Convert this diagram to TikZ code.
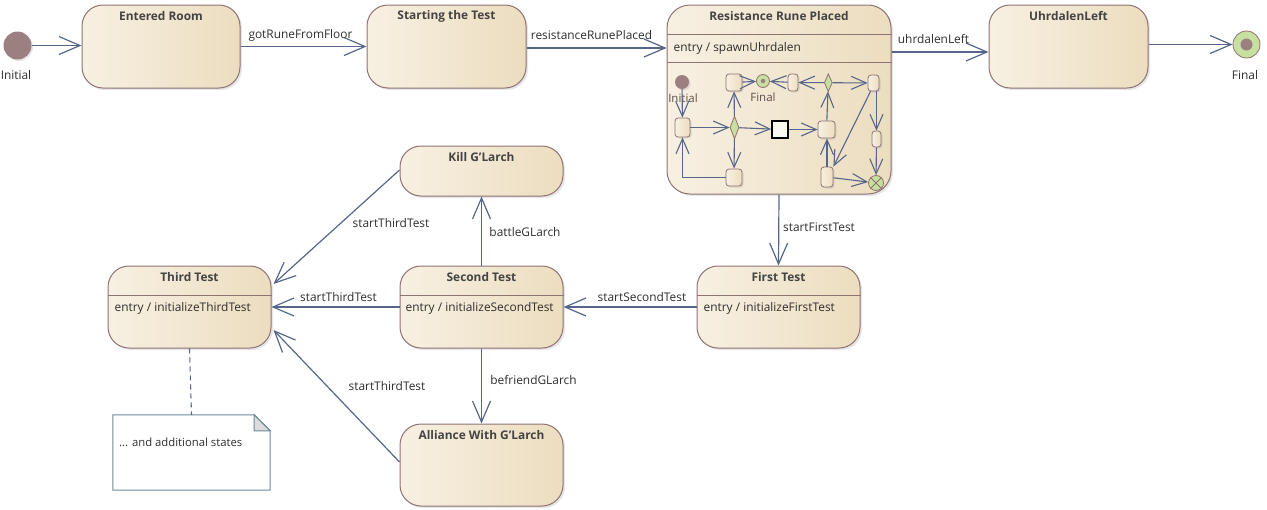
\documentclass[tikz,border=0pt]{standalone}
\usepackage{fontspec}
\setmainfont{Open Sans}
\usetikzlibrary{arrows.meta,shapes.geometric,shadows,calc}
\definecolor{stL}{HTML}{F7F0E2}
\definecolor{stR}{HTML}{ECDDBF}
\definecolor{stB}{HTML}{8E7373}
\definecolor{ln}{HTML}{56668A}
\definecolor{txt}{HTML}{2E2E2E}
\definecolor{ttlc}{HTML}{444444}
\definecolor{ini}{HTML}{9C8081}
\definecolor{fgrn}{HTML}{C7DF9F}
\definecolor{notB}{HTML}{6A8A9A}
\definecolor{foldc}{HTML}{DCDCDC}
\tikzset{
 state/.style={draw=stB, line width=1pt, rounded corners=21pt, left color=stL, right color=stR,
   drop shadow={shadow xshift=2pt, shadow yshift=-2pt, opacity=0.2}, inner sep=0pt},
 small/.style={draw=stB, line width=0.8pt, rounded corners=3pt, left color=stL, right color=stR,
   drop shadow={shadow xshift=1.5pt, shadow yshift=-1.5pt, opacity=0.2}, inner sep=0pt},
 ttl/.style={font=\fontsize{11.9}{13}\selectfont\bfseries, text=ttlc, inner sep=0pt},
 lbl/.style={font=\fontsize{11.9}{13}\selectfont, text=txt, inner sep=0pt},
 slbl/.style={font=\fontsize{11.5}{13}\selectfont, text=txt, inner sep=0pt},
 sep/.style={draw=stB, line width=1pt},
 tr/.style={draw=ln, line width=1.2pt, -{Straight Barb[length=21pt,width=18pt]}},
 itr/.style={draw=ln, line width=1.1pt, -{Straight Barb[length=15pt,width=13pt]}},
 initst/.style={circle, fill=ini, inner sep=0pt, drop shadow={shadow xshift=1.5pt, shadow yshift=-1.5pt, opacity=0.2}},
 finst/.style={circle, draw=stB, line width=0.8pt, fill=fgrn, inner sep=0pt},
}
\begin{document}
\begin{tikzpicture}[x=1pt,y=-1pt]
\useasboundingbox (0,0) rectangle (1267,509);

% ---------- top row ----------
\node[initst, minimum size=28pt] (init) at (17.5,45.5) {};
\node[lbl] (initL) at (16,75) {Initial};

\node[state, minimum width=158pt, minimum height=83pt] (er) at (161,46.5) {};
\node[ttl] (erT) at ([yshift=-12pt]er.north) {Entered Room};

\node[state, minimum width=159pt, minimum height=83pt] (st) at (446.5,46.5) {};
\node[ttl] (stT) at ([yshift=-12pt]st.north) {Starting the Test};

\node[state, minimum width=224pt, minimum height=189pt, rounded corners=23pt] (rr) at (779,99.5) {};
\node[ttl] (rrT) at ([yshift=-12pt]rr.north) {Resistance Rune Placed};
\draw[sep] ([yshift=65.5pt]rr.west) -- ([yshift=65.5pt]rr.east);
\draw[sep] ([yshift=37pt]rr.west) -- ([yshift=37pt]rr.east);
\node[lbl, anchor=west] (rrE) at ([xshift=7pt,yshift=51.5pt]rr.west) {entry / spawnUhrdalen};

\node[state, minimum width=159pt, minimum height=83pt] (ul) at (1068.5,46.5) {};
\node[ttl] (ulT) at ([yshift=-12pt]ul.north) {UhrdalenLeft};

\node[finst, minimum size=27pt] (fin) at (1246.5,44.5) {};
\node[circle, fill=ini, inner sep=0pt, minimum size=12pt] (finD) at (fin.center) {};
\node[lbl] (finL) at (1245,75) {Final};

% ---------- inner diagram of Resistance Rune Placed ----------
\node[initst, minimum size=14pt] (iInit) at (682,82) {};
\node[slbl, text=ini!60!black] (iInitL) at (683,98) {Initial};
\node[small, minimum width=15pt, minimum height=19pt] (A) at (682.5,127.5) {};
\node[diamond, draw=stB, line width=0.8pt, fill=fgrn, minimum width=9pt, minimum height=23pt, inner sep=0pt] (D1) at (734.5,127.5) {};
\node[draw=black, line width=1.6pt, fill=stL!50!white, minimum width=16pt, minimum height=17pt, inner sep=0pt] (J) at (780,129.5) {};
\node[small, minimum width=17pt, minimum height=17pt] (B) at (826.5,129.5) {};
\node[small, minimum width=16pt, minimum height=17pt] (C) at (734,177.5) {};
\node[small, minimum width=16pt, minimum height=17pt] (Dn) at (734,82.5) {};
\node[finst, minimum size=13pt] (iFin) at (763,81) {};
\node[circle, fill=ini, inner sep=0pt, minimum size=4.5pt] (iFinD) at (iFin.center) {};
\node[slbl, text=ini!60!black] (iFinL) at (763,97) {Final};
\node[small, minimum width=10pt, minimum height=17pt] (E) at (793,82.5) {};
\node[diamond, draw=stB, line width=0.8pt, fill=fgrn, minimum width=8pt, minimum height=18pt, inner sep=0pt] (D2) at (828.3,82.7) {};
\node[small, minimum width=11pt, minimum height=16pt] (F) at (873.5,83) {};
\node[small, minimum width=9pt, minimum height=16pt] (H) at (876.5,139) {};
\node[small, minimum width=12pt, minimum height=20pt] (G) at (827,177) {};
\node[finst, minimum size=15pt] (X) at (876,183) {};
\draw[draw=stB, line width=0.8pt] (X.north west) -- (X.south east) (X.north east) -- (X.south west);

\draw[itr] (iInit) -- (A);
\draw[itr] (A) -- (D1);
\draw[itr] (D1) -- (J);
\draw[itr] (J) -- (B);
\draw[itr] (D1) -- (Dn);
\draw[itr] (D1) -- (C);
\draw[itr] (C.west) -| (A.south);
\draw[itr] (Dn) -- (iFin);
\draw[itr] (E) -- (iFin);
\draw[itr] (D2) -- (E);
\draw[itr] (D2) -- (F);
\draw[itr] (B) -- (D2);
\draw[itr] (G) -- (G |- B.south);
\draw[itr] ([xshift=-3pt]F.south) -- (G.north east);
\draw[itr] (F.south -| H.north) -- (H.north);
\draw[itr] (H) -- (X);
\draw[itr] (G) -- (X);

% ---------- lower states ----------
\node[state, minimum width=163pt, minimum height=50pt] (kill) at (481.5,171) {};
\node[ttl] (killT) at ([yshift=-12pt]kill.north) {Kill G'Larch};

\node[state, minimum width=163pt, minimum height=82pt] (third) at (189.5,307) {};
\node[ttl] (thirdT) at ([yshift=-12pt]third.north) {Third Test};
\draw[sep] ([yshift=12pt]third.west) -- ([yshift=12pt]third.east);
\node[lbl, anchor=west] (thirdE) at ([xshift=7pt,yshift=-1pt]third.west) {entry / initializeThirdTest};

\node[state, minimum width=163pt, minimum height=82pt] (second) at (481.5,307) {};
\node[ttl] (secondT) at ([yshift=-12pt]second.north) {Second Test};
\draw[sep] ([yshift=12pt]second.west) -- ([yshift=12pt]second.east);
\node[lbl, anchor=west] (secondE) at ([xshift=6pt,yshift=-1pt]second.west) {entry / initializeSecondTest};

\node[state, minimum width=163pt, minimum height=82pt] (first) at (778.5,307) {};
\node[ttl] (firstT) at ([yshift=-12pt]first.north) {First Test};
\draw[sep] ([yshift=12pt]first.west) -- ([yshift=12pt]first.east);
\node[lbl, anchor=west] (firstE) at ([xshift=7pt,yshift=-1pt]first.west) {entry / initializeFirstTest};

\node[state, minimum width=163pt, minimum height=82pt] (alliance) at (481.5,465) {};
\node[ttl] (allianceT) at ([yshift=-12pt]alliance.north) {Alliance With G'Larch};

% ---------- note ----------
\node[minimum width=157pt, minimum height=75pt, inner sep=0pt] (note) at (191.5,452.5) {};
\draw[draw=notB, fill=white, line width=1pt] (note.north west) -- ([xshift=-16pt]note.north east)
  -- ([yshift=-16pt]note.north east) -- (note.south east) -- (note.south west) -- cycle;
\draw[draw=notB, fill=foldc, line width=1pt] ([xshift=-16pt]note.north east)
  -- ([xshift=-16pt,yshift=-16pt]note.north east) -- ([yshift=-16pt]note.north east) -- cycle;
\node[font=\fontsize{11.3}{13}\selectfont, text=txt, anchor=west, inner sep=0pt] (noteT) at (119,442) {... and additional states};
\draw[draw=ln, line width=1.1pt, dash pattern=on 5pt off 4pt] (third.south) -- (note.north);

% ---------- transitions ----------
\draw[tr] (init.east) -- (init.east -| er.west);
\draw[tr] (er.east) -- (st.west);
\node[lbl] (l1) at (300.5,35) {gotRuneFromFloor};
\draw[tr] ([yshift=-1.5pt]st.east) -- ([yshift=-1.5pt]st.east -| rr.west);
\node[lbl] (l2) at (591.5,35.5) {resistanceRunePlaced};
\draw[tr] ([yshift=-5.5pt]rr.north east |- ul.west) -- ([yshift=-5.5pt]ul.west);
\node[lbl] (l3) at (933.5,39) {uhrdalenLeft};
\draw[tr] (ul.east |- fin.west) -- (fin.west);

\draw[tr] (rr.south) -- (first.north);
\node[lbl] (l4) at (819,227) {startFirstTest};
\draw[tr] (first.west) -- (second.east);
\node[lbl] (l5) at (642,297) {startSecondTest};
\draw[tr] (second.west) -- (third.east);
\node[lbl] (l6) at (338.5,297) {startThirdTest};
\draw[tr] (second.north) -- (kill.south);
\node[lbl] (l7) at (525,232) {battleGLarch};
\draw[tr] ([yshift=1pt]kill.west) -- ([xshift=2pt,yshift=23pt]third.east);
\node[lbl] (l8) at (391,223) {startThirdTest};
\draw[tr] (second.south) -- (alliance.north);
\node[lbl] (l9) at (533.5,380) {befriendGLarch};
\draw[tr] ([yshift=3pt]alliance.west) -- ([xshift=2pt,yshift=-23pt]third.east);
\node[lbl] (l10) at (387,386) {startThirdTest};
\end{tikzpicture}
\end{document}
